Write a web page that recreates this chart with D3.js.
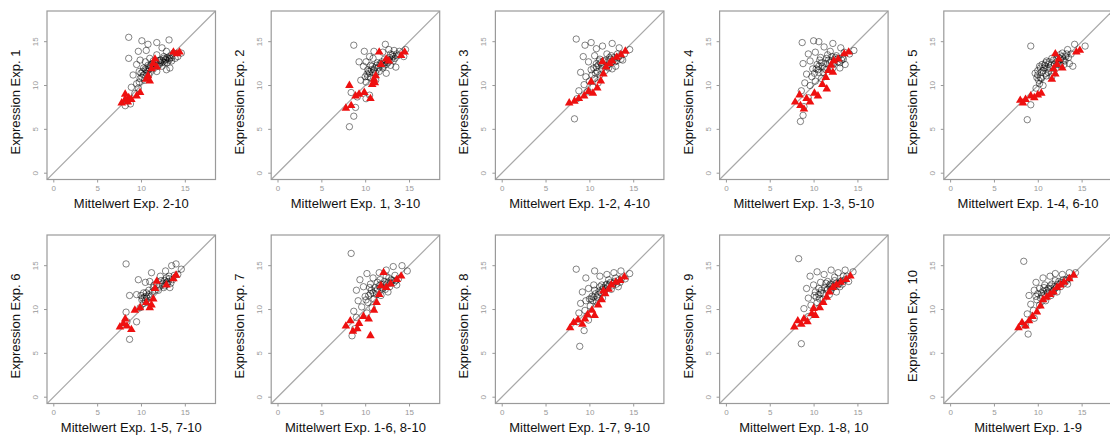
<!DOCTYPE html>
<html>
<head>
<meta charset="utf-8">
<script src="https://cdn.jsdelivr.net/npm/d3@7"></script>
<style>
  html, body { margin: 0; padding: 0; background: #fff; }
  svg { display: block; }
</style>
</head>
<body>
<svg id="chart" width="1110" height="444"></svg>
<script>
// Expression of each experiment vs. mean of the remaining nine experiments
const yTitles = ["Expression Exp. 1","Expression Exp. 2","Expression Exp. 3","Expression Exp. 4","Expression Exp. 5",
                 "Expression Exp. 6","Expression Exp. 7","Expression Exp. 8","Expression Exp. 9","Expression Exp. 10"];
const xTitles = ["Mittelwert Exp. 2-10","Mittelwert Exp. 1, 3-10","Mittelwert Exp. 1-2, 4-10","Mittelwert Exp. 1-3, 5-10","Mittelwert Exp. 1-4, 6-10",
                 "Mittelwert Exp. 1-5, 7-10","Mittelwert Exp. 1-6, 8-10","Mittelwert Exp. 1-7, 9-10","Mittelwert Exp. 1-8, 10","Mittelwert Exp. 1-9"];
const tickValues = [0, 5, 10, 15];

// [mean of others, expression] — all genes (open circles)
const exp1Circles = [[8.6,15.5],[10.1,15.1],[10.8,14.7],[11.8,14.9],[13.2,15.2],[12.4,14.3],[9.7,13.9],[10.6,14.0],[8.6,13.1],[9.5,12.4],[9.9,12.9],[11.0,13.1],[12.9,13.9],[13.7,13.7],[14.6,13.7],[13.3,12.0],[11.8,11.6],[9.1,11.2],[9.9,10.8],[9.5,10.2],[8.9,9.8],[8.2,7.7],[8.8,7.9],[8.4,8.5],[10.3,12.0],[11.2,12.4],[12.2,12.9],[12.6,13.3],[13.1,13.1],[12.7,12.6],[13.5,12.8],[13.9,13.1],[10.6,11.8],[10.3,11.2],[9.7,9.7],[9.3,9.1],[10.6,11.4],[11.4,12.8],[11.8,13.5],[14.2,13.3],[12.9,11.8],[10.8,12.3],[11.0,11.9],[12.4,12.2],[13.0,12.6],[10.4,10.6],[10.0,11.4],[11.6,12.6],[12.8,13.0],[13.4,13.4],[10.5,12.7],[9.8,11.6],
  [10.2,11.6],[10.5,11.9],[10.9,12.0],[11.1,12.2],[11.3,12.5],[11.5,12.3],[11.7,12.7],[12.0,12.8],[12.3,12.9],[12.5,12.7],[12.8,12.9],[13.0,13.2],[13.2,12.9],[13.5,13.2],[12.1,12.4],[10.7,11.6],[10.9,11.2],[10.1,10.9],[9.8,10.4],[11.3,11.9],[12.6,13.1],[13.3,13.1],[12.2,12.6],[11.9,12.2]];
const exp2Circles = [[8.7,14.6],[8.2,5.3],[8.7,6.5],[8.9,7.5],[9.1,8.7],[9.9,13.9],[10.1,12.7],[9.3,12.7],[10.5,13.3],[11.0,13.9],[12.3,14.7],[12.7,14.1],[13.9,13.9],[14.4,13.3],[14.6,14.1],[12.0,12.0],[12.9,12.3],[13.5,12.1],[12.4,11.4],[11.2,10.6],[10.1,10.4],[9.5,10.6],[10.5,11.4],[11.0,11.8],[8.4,9.2],[10.1,8.5],[10.5,8.9],[10.3,11.8],[10.8,12.2],[11.4,12.6],[12.2,13.0],[12.8,13.2],[13.2,12.8],[13.6,13.6],[10.0,11.0],[10.6,10.9],[11.6,11.6],[12.6,12.6],[13.1,13.5],[9.8,12.2],[10.9,13.1],[12.0,13.8],[13.3,14.0],[11.8,12.4],
  [10.2,11.3],[10.4,11.6],[10.7,11.8],[10.9,11.5],[11.1,12.0],[11.3,12.3],[11.5,12.1],[11.9,12.7],[12.2,12.6],[12.5,12.9],[12.7,12.8],[13.0,13.0],[13.2,13.3],[13.4,13.1],[12.9,13.6],[10.6,12.3],[11.2,11.4],[12.4,12.4],[13.7,13.4],[12.1,12.2],[10.3,11.0],[11.7,12.5]];
const exp3Circles = [[8.5,15.3],[8.3,6.2],[9.5,14.6],[10.2,14.9],[10.8,14.2],[11.5,14.5],[12.6,14.8],[13.4,14.3],[14.6,14.1],[9.3,13.3],[9.9,12.7],[10.6,13.4],[11.2,13.0],[12.0,13.6],[12.8,13.2],[13.6,13.0],[9.0,11.5],[9.6,11.0],[10.2,11.8],[10.8,12.1],[11.4,12.3],[12.2,12.4],[13.0,12.2],[13.8,12.9],[9.4,10.1],[10.0,10.5],[10.6,10.8],[11.2,11.2],[11.8,11.7],[12.6,11.9],[8.8,9.4],[9.8,9.3],[10.4,9.8],[11.0,10.3],[8.6,8.5],[12.4,13.0],[12.9,12.7],[11.6,12.8],[10.9,11.6],[13.2,13.6],[14.0,13.6],
  [10.5,12.0],[10.8,12.5],[11.0,12.3],[11.3,12.6],[11.6,12.4],[11.9,12.9],[12.1,12.7],[12.3,13.2],[12.6,12.7],[12.8,13.0],[13.1,12.8],[13.3,13.2],[12.0,12.2],[11.4,11.9],[10.7,11.4],[10.3,11.2],[12.5,13.4],[13.5,13.4],[11.1,12.8],[12.2,12.0]];
const exp4Circles = [[8.7,14.9],[10.0,15.1],[10.6,15.0],[11.2,14.4],[12.2,14.8],[13.1,14.3],[14.6,14.0],[9.4,13.6],[10.2,13.8],[10.8,13.2],[11.6,13.5],[12.6,13.4],[13.5,13.8],[8.8,12.5],[9.6,12.8],[10.4,12.4],[11.0,12.2],[11.8,12.6],[12.8,12.7],[13.6,12.4],[9.2,11.3],[9.8,11.0],[10.6,11.5],[11.4,11.8],[12.2,12.0],[13.0,12.0],[9.0,10.3],[9.6,10.0],[10.2,10.5],[10.9,10.8],[8.6,9.4],[9.4,8.6],[8.5,5.9],[8.8,6.6],[8.9,7.6],[12.4,13.0],[11.9,13.9],[13.3,13.2],[10.7,12.9],[9.9,11.9],[14.1,13.6],
  [10.3,11.9],[10.6,12.2],[10.9,12.6],[11.2,12.0],[11.4,12.5],[11.7,12.9],[12.0,12.8],[12.3,12.5],[12.5,13.2],[12.8,13.1],[13.0,12.6],[13.2,12.9],[11.1,11.5],[10.5,11.8],[12.1,13.3],[13.4,13.0],[11.5,13.1],[10.1,11.4]];
const exp5Circles = [[9.2,14.5],[8.8,6.1],[9.2,7.8],[10.4,10.8],[10.6,11.7],[11.2,12.4],[11.6,13.1],[12.8,13.7],[13.4,14.1],[14.2,14.7],[15.4,14.5],[14.0,12.2],[13.6,12.5],[12.2,12.7],[11.6,11.0],[10.2,10.2],[9.8,9.7],[10.6,10.0],[12.0,11.9],[10.0,11.2],[10.3,12.0],[10.8,12.3],[11.0,12.8],[11.4,12.0],[11.9,12.4],[12.4,13.2],[12.9,12.9],[13.2,13.3],[13.8,13.6],[10.9,11.4],[10.1,10.6],[12.6,12.4],[13.0,12.4],[11.2,11.5],
  [10.0,11.7],[10.2,12.2],[10.4,11.5],[10.5,12.4],[10.7,12.0],[10.9,12.6],[11.1,11.9],[11.3,12.7],[11.5,12.3],[11.8,12.9],[12.1,13.0],[12.3,12.4],[12.6,13.0],[12.8,13.3],[13.1,12.8],[13.3,13.6],[9.9,10.9],[10.3,10.9],[12.5,13.5],[13.5,13.2],[11.0,11.1],[9.7,11.4]];
const exp6Circles = [[8.3,15.2],[8.7,6.6],[8.3,9.7],[8.7,11.6],[9.7,13.4],[10.5,13.1],[11.2,14.2],[12.2,13.8],[12.8,14.4],[13.5,15.0],[14.0,15.2],[14.6,14.6],[9.5,11.7],[10.6,11.9],[9.9,10.2],[10.3,10.7],[11.4,12.5],[12.7,13.3],[13.3,12.5],[9.5,8.6],[8.4,8.6],[10.2,11.3],[10.6,11.5],[10.9,12.2],[11.8,12.8],[12.4,12.9],[13.0,12.9],[13.2,13.5],[13.8,13.9],[10.0,11.6],[10.8,10.8],[12.0,12.2],[12.9,13.6],[11.0,13.2],[14.2,14.0],
  [10.1,11.1],[10.4,11.4],[10.5,11.0],[10.7,11.3],[10.9,11.7],[11.1,11.5],[11.3,12.0],[11.6,12.2],[12.1,12.7],[12.5,13.0],[12.7,12.7],[12.9,13.1],[13.1,13.2],[13.4,13.0],[12.3,13.3],[13.6,13.4],[11.5,12.8],[10.3,11.9],[12.6,12.5],[13.2,13.8]];
const exp7Circles = [[8.4,16.4],[8.5,7.0],[8.8,7.8],[9.4,13.4],[10.2,14.1],[10.9,13.6],[11.6,14.2],[12.4,14.5],[13.2,14.9],[14.2,15.0],[14.8,14.4],[9.0,12.2],[9.8,12.6],[10.6,12.9],[11.4,13.1],[12.2,13.2],[13.0,13.4],[13.8,13.5],[9.2,11.0],[10.0,11.5],[10.6,11.8],[11.2,12.1],[12.0,12.4],[12.8,12.6],[13.6,12.8],[8.7,9.8],[9.6,10.3],[10.3,10.8],[11.0,11.2],[11.8,11.6],[12.6,12.0],[9.0,9.1],[10.2,9.6],[10.8,10.2],[12.4,13.8],[11.8,12.9],[13.4,13.9],
  [10.4,11.6],[10.7,12.2],[10.9,11.9],[11.1,12.5],[11.4,12.3],[11.6,12.7],[11.9,12.5],[12.1,12.9],[12.4,12.8],[12.6,13.1],[12.9,13.0],[13.1,13.3],[13.3,13.1],[10.5,12.5],[11.3,11.7],[12.3,12.3],[13.5,13.3],[10.1,11.1],[12.7,13.6],[11.7,13.4]];
const exp8Circles = [[8.5,14.6],[8.9,5.8],[9.4,7.6],[9.6,13.6],[10.6,14.4],[11.2,13.8],[12.0,14.0],[12.8,14.2],[13.6,14.4],[14.6,14.1],[9.2,12.0],[9.9,12.4],[10.5,12.8],[11.2,12.6],[12.0,12.9],[12.8,13.0],[13.5,13.1],[9.0,10.7],[9.6,11.0],[10.3,11.5],[11.0,11.7],[11.7,12.0],[12.5,12.3],[13.3,12.6],[8.8,9.6],[9.5,9.9],[10.1,10.4],[10.8,10.9],[11.5,11.3],[8.6,8.6],[9.9,8.8],[12.2,13.4],[13.0,13.6],[11.6,12.5],[10.4,11.0],[14.1,13.5],
  [10.2,11.2],[10.5,11.4],[10.7,11.8],[10.9,11.4],[11.1,12.1],[11.3,11.9],[11.5,12.3],[11.8,12.4],[12.1,12.6],[12.3,12.9],[12.6,12.7],[12.9,13.2],[13.1,12.9],[13.4,13.4],[11.9,12.8],[10.6,12.2],[12.4,13.1],[13.7,13.6],[11.4,12.8],[10.0,11.2]];
const exp9Circles = [[8.3,15.8],[8.6,6.1],[9.6,13.8],[10.4,14.3],[11.2,14.0],[12.0,14.5],[12.8,14.2],[13.6,14.5],[14.5,14.3],[9.2,12.4],[10.0,12.8],[10.8,13.1],[11.6,13.2],[12.4,13.3],[13.2,13.3],[14.0,13.2],[9.4,11.3],[10.1,11.6],[10.8,11.9],[11.5,12.2],[12.2,12.5],[13.0,12.6],[8.9,10.1],[9.7,10.5],[10.4,10.8],[11.1,11.2],[11.8,11.7],[9.4,9.2],[12.6,12.0],[10.6,12.4],[11.9,12.9],[13.4,13.8],[12.9,13.0],
  [10.3,11.4],[10.6,11.7],[10.9,12.2],[11.1,11.8],[11.3,12.5],[11.6,12.3],[11.8,12.7],[12.1,12.9],[12.3,12.7],[12.6,13.0],[12.8,12.8],[13.1,13.2],[13.3,12.9],[13.6,13.4],[12.4,13.7],[11.4,13.0],[10.2,12.0],[12.0,12.2],[13.8,13.8],[10.7,11.2]];
const exp10Circles = [[8.4,15.5],[8.9,7.2],[8.6,8.2],[9.8,13.1],[10.6,13.6],[11.4,13.8],[12.0,14.1],[12.8,14.0],[13.6,14.2],[14.3,14.2],[9.0,11.6],[9.6,12.2],[10.2,12.4],[10.8,12.8],[11.6,12.9],[12.4,13.2],[13.2,13.4],[9.2,10.6],[9.9,11.1],[10.5,11.6],[11.1,11.9],[11.8,12.2],[12.6,12.6],[13.4,12.9],[8.8,9.5],[9.5,9.9],[10.2,10.5],[10.9,11.0],[11.5,11.6],[12.2,12.0],[9.6,9.0],[10.4,11.9],[11.2,12.4],[12.9,13.4],
  [10.0,11.8],[10.3,11.3],[10.6,12.1],[10.8,11.7],[11.0,12.2],[11.3,11.9],[11.5,12.4],[11.7,12.0],[11.9,12.6],[12.1,12.5],[12.3,12.9],[12.5,12.9],[12.7,13.1],[13.0,13.0],[13.3,13.3],[13.6,13.6],[9.8,11.5],[10.7,12.5],[11.4,12.7],[12.0,13.3]];

// [mean of others, expression] — highlighted genes (red triangles)
const exp1Triangles = [[7.8,8.1],[8.2,8.5],[8.6,8.7],[8.9,8.5],[9.5,8.9],[9.9,9.3],[8.2,9.1],[10.6,10.8],[11.0,10.6],[10.8,11.2],[11.2,12.0],[11.4,12.6],[11.6,13.1],[11.8,12.2],[13.7,13.9],[14.1,13.7],[14.4,13.9],[8.5,8.2]];
const exp2Triangles = [[7.8,7.5],[8.4,7.8],[8.2,10.1],[8.9,8.9],[9.3,9.1],[9.9,9.3],[10.6,8.6],[10.8,10.2],[11.0,10.8],[11.2,11.2],[11.8,12.5],[12.4,13.1],[11.6,13.9],[12.7,12.9],[14.1,13.5],[14.5,13.9],[11.1,10.4]];
const exp3Triangles = [[7.7,8.1],[8.3,8.3],[8.8,8.6],[9.4,8.9],[9.9,9.4],[10.4,9.2],[10.9,9.8],[11.3,10.6],[11.6,11.4],[11.9,12.2],[12.3,12.6],[12.6,12.9],[13.1,13.3],[13.6,13.6],[14.1,14.0],[10.2,10.5],[11.5,12.8]];
const exp4Triangles = [[7.9,8.2],[8.4,9.0],[8.5,7.8],[8.9,7.4],[9.2,8.6],[9.6,8.2],[10.1,9.2],[10.5,8.9],[11.0,10.2],[11.4,11.0],[11.7,11.8],[11.5,9.7],[12.0,12.4],[12.3,12.9],[12.8,13.1],[13.5,13.7],[14.0,13.9],[12.2,11.6]];
const exp5Triangles = [[8.0,8.4],[8.6,8.5],[9.2,8.9],[9.6,8.7],[10.0,9.0],[10.4,9.2],[11.6,10.8],[12.0,11.4],[12.4,13.1],[12.0,13.7],[12.8,12.1],[14.4,13.9],[14.8,14.1],[11.8,12.0],[12.2,12.5],[8.3,8.1]];
const exp6Triangles = [[7.6,8.1],[8.2,9.0],[8.4,8.2],[8.9,7.8],[9.3,10.0],[9.9,10.3],[10.6,10.9],[11.0,10.3],[11.4,11.3],[11.6,12.5],[11.8,13.3],[12.9,12.9],[13.7,13.6],[14.0,14.0],[8.0,8.5],[11.2,10.6]];
const exp7Triangles = [[7.8,8.2],[8.3,8.8],[8.6,7.6],[9.1,7.9],[9.3,8.5],[9.8,9.3],[10.4,9.0],[10.6,7.1],[11.0,10.0],[11.3,10.9],[11.6,11.8],[11.8,12.8],[12.1,14.3],[12.4,12.6],[12.9,13.0],[13.6,13.5],[14.1,13.9]];
const exp8Triangles = [[7.8,8.0],[8.2,8.6],[8.7,8.9],[9.2,8.4],[9.5,9.0],[9.8,9.5],[10.3,10.0],[10.6,9.4],[11.0,10.6],[11.4,11.2],[11.8,11.9],[12.2,12.4],[12.5,12.9],[13.0,13.2],[13.5,13.4],[14.0,13.8],[11.6,12.2]];
const exp9Triangles = [[7.8,8.1],[8.2,8.8],[8.6,8.4],[8.9,9.0],[9.3,8.7],[9.8,9.6],[10.2,9.4],[10.7,10.3],[11.1,10.9],[11.5,11.5],[11.8,12.1],[12.2,12.6],[12.6,12.9],[13.1,13.2],[13.7,13.5],[14.2,13.9],[10.0,10.2]];
const exp10Triangles = [[7.8,8.0],[8.2,8.6],[8.6,8.2],[9.0,8.8],[9.4,9.3],[9.9,9.8],[10.3,10.5],[10.6,11.2],[11.0,11.5],[11.4,11.8],[11.8,12.1],[12.2,12.6],[12.6,12.9],[13.0,13.2],[13.6,13.6],[14.1,14.0]];

const circleSets = [exp1Circles, exp2Circles, exp3Circles, exp4Circles, exp5Circles,
                    exp6Circles, exp7Circles, exp8Circles, exp9Circles, exp10Circles];
const triangleSets = [exp1Triangles, exp2Triangles, exp3Triangles, exp4Triangles, exp5Triangles,
                      exp6Triangles, exp7Triangles, exp8Triangles, exp9Triangles, exp10Triangles];

// layout of the 2 x 5 grid of square panels
const boxSize = 168.5;
const colStep = 224.2, rowStep = 224;
const originX = 47, originY = 11;
const domain = [-0.72, 18.5];

const svg = d3.select("#chart");
const font = "'Liberation Sans', Arial, sans-serif";
const triangle = d3.symbol().type(d3.symbolTriangle).size(32);

for (let i = 0; i < 10; i++) {
  const col = i % 5, row = Math.floor(i / 5);
  const left = originX + col * colStep;
  const top = originY + row * rowStep;

  const x = d3.scaleLinear().domain(domain).range([0, boxSize]);
  const y = d3.scaleLinear().domain(domain).range([boxSize, 0]);

  const g = svg.append("g").attr("transform", `translate(${left},${top})`);
  const clipId = "clip" + i;
  g.append("clipPath").attr("id", clipId)
    .append("rect").attr("width", boxSize).attr("height", boxSize);

  // identity line
  g.append("line")
    .attr("clip-path", `url(#${clipId})`)
    .attr("x1", x(domain[0])).attr("y1", y(domain[0]))
    .attr("x2", x(domain[1])).attr("y2", y(domain[1]))
    .attr("stroke", "#a8a8a8").attr("stroke-width", 1.2);

  // all genes
  g.append("g").attr("clip-path", `url(#${clipId})`)
    .selectAll("circle").data(circleSets[i]).join("circle")
    .attr("cx", d => x(d[0])).attr("cy", d => y(d[1]))
    .attr("r", 3.2)
    .attr("fill", "none").attr("stroke", "#000").attr("stroke-opacity", 0.48).attr("stroke-width", 1);

  // highlighted genes
  g.append("g").attr("clip-path", `url(#${clipId})`)
    .selectAll("path").data(triangleSets[i]).join("path")
    .attr("transform", d => `translate(${x(d[0])},${y(d[1]) + 0.8})`)
    .attr("d", triangle)
    .attr("fill", "#ee1010");

  // frame
  g.append("rect").attr("width", boxSize).attr("height", boxSize)
    .attr("fill", "none").attr("stroke", "#9a9a9a").attr("stroke-width", 1.2);

  // axes
  const xAxis = d3.axisBottom(x).tickValues(tickValues).tickSize(3).tickPadding(3);
  const ax = g.append("g").attr("transform", `translate(0,${boxSize})`).call(xAxis);
  ax.select(".domain").remove();
  ax.selectAll("line").attr("stroke", "#999");
  ax.selectAll("text").attr("fill", "#999").style("font", `8px ${font}`);

  const yAxis = d3.axisLeft(y).tickValues(tickValues).tickSize(3).tickPadding(3);
  const ay = g.append("g").call(yAxis);
  ay.select(".domain").remove();
  ay.selectAll("line").attr("stroke", "#999");
  ay.selectAll("text")
    .attr("fill", "#999").style("font", `8px ${font}`)
    .attr("x", null).attr("dy", null)
    .attr("text-anchor", "middle")
    .attr("transform", d => `translate(-9,${y(d)}) rotate(-90)`)
    .attr("y", 0);
  ay.selectAll(".tick").attr("transform", null);
  ay.selectAll(".tick line").attr("transform", d => `translate(0,${y(d)})`);

  // titles
  g.append("text")
    .attr("x", boxSize / 2).attr("y", 197)
    .attr("text-anchor", "middle")
    .style("font", `13px ${font}`).attr("fill", "#111")
    .text(xTitles[i]);
  g.append("text")
    .attr("transform", `translate(-27,${91}) rotate(-90)`)
    .attr("text-anchor", "middle")
    .style("font", `13px ${font}`).attr("fill", "#111")
    .text(yTitles[i]);
}
</script>
</body>
</html>
